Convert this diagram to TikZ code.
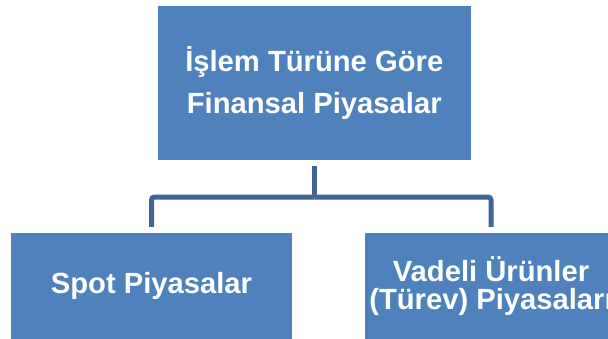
\documentclass[tikz,border=0pt]{standalone}
\usepackage{fontspec}
\setmainfont{Liberation Sans}
\definecolor{boxblue}{HTML}{4F81BD}
\definecolor{linkblue}{HTML}{3F6595}
\begin{document}
\begin{tikzpicture}[x=1pt,y=1pt,
  orgbox/.style={fill=boxblue, draw=none, inner sep=0pt, align=center,
    text=white, font=\bfseries},
  link/.style={draw=linkblue, line width=5pt, rounded corners=3pt}]
\clip (0,0) rectangle (608,338);
\useasboundingbox (0,0) rectangle (608,338);
\fill[white] (0,0) rectangle (608,338);

\node[orgbox, minimum width=313.5pt, minimum height=154pt,
  font=\bfseries\fontsize{29.2}{42.4}\selectfont] (top) at (314.25,255)
  {İşlem Türüne Göre\\Finansal Piyasalar};
\node[orgbox, minimum width=281pt, minimum height=106pt,
  font=\bfseries\fontsize{29.2}{28.5}\selectfont] (spot) at (151.5,52)
  {Spot Piyasalar};
\node[orgbox, minimum width=252pt, minimum height=106pt,
  font=\bfseries\fontsize{29.2}{28.5}\selectfont] (vadeli) at (491,52)
  {Vadeli Ürünler\\(Türev) Piyasaları};

\coordinate (hub) at (314.25,141);
\draw[link] ([yshift=-6pt]top.south) -- (hub);
\draw[link] (hub) -| ([yshift=6pt]spot.north);
\draw[link] (hub) -| ([yshift=6pt]vadeli.north);
\end{tikzpicture}
\end{document}
